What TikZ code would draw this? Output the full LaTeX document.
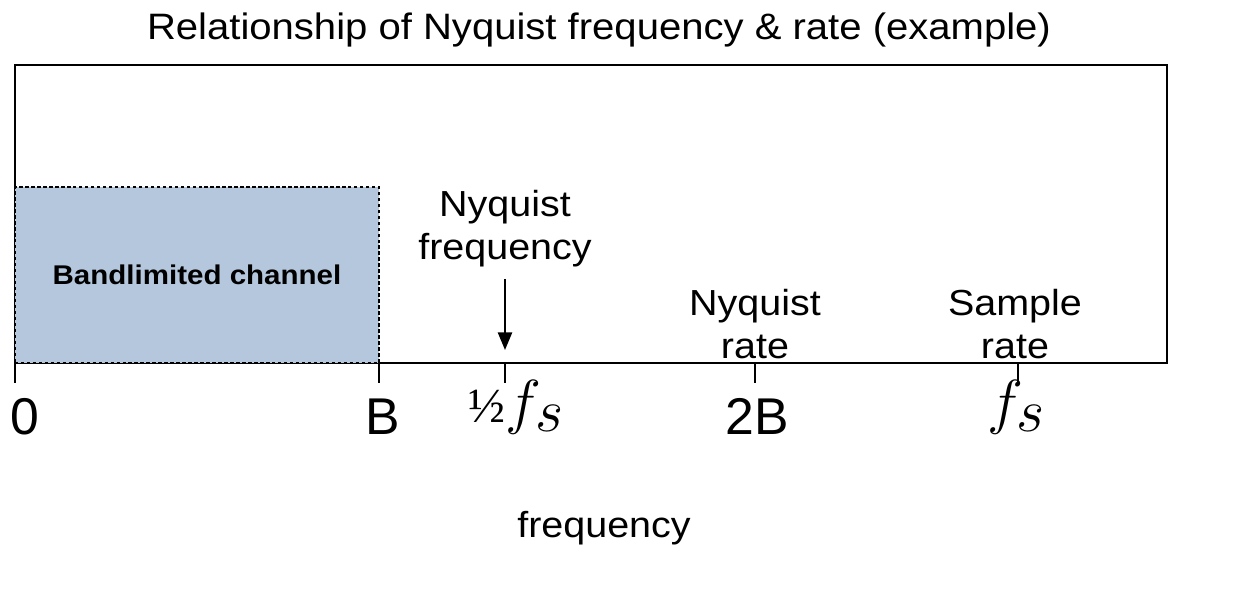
\documentclass[tikz,border=0pt]{standalone}
\usepackage{fontspec}
\setmainfont{Liberation Sans}[FakeStretch=1.09]
\newfontfamily\tickfont{Liberation Sans}
\newfontfamily\halffont{Liberation Serif}
\usetikzlibrary{arrows.meta}

\definecolor{bandblue}{HTML}{B4C7DC}

\begin{document}
\begin{tikzpicture}[x=0.01cm, y=-0.01cm,
    every node/.style={font=\fontsize{10.3}{12}\selectfont},
    tickline/.style={line width=0.6pt},
    ticklabel/.style={anchor=base, font=\tickfont\fontsize{14.7}{17}\selectfont},
    mathlabel/.style={anchor=base, font=\fontsize{16}{18}\selectfont},
    ratelabel/.style={anchor=base, align=center}]
    \useasboundingbox (0,0) rectangle (1245,599);

    \node[anchor=base, font=\fontsize{10.45}{12}\selectfont] (title) at (599,39) {Relationship of Nyquist frequency \& rate (example)};

    % frame and band
    \node[draw, line width=0.6pt, minimum width=11.52cm, minimum height=2.98cm, inner sep=0pt] (frame) at (591,214) {};
    \node[draw, fill=bandblue, line width=0.6pt, dash pattern=on 1pt off 0.7pt,
          minimum width=3.64cm, minimum height=1.76cm, inner sep=0pt,
          font=\fontsize{7.7}{9}\selectfont\bfseries] (band) at (197,275) {Bandlimited channel};

    % ticks
    \coordinate (a0) at (15,363);   \coordinate (b0) at (15,383);
    \coordinate (aB) at (379,363);  \coordinate (bB) at (379,383);
    \coordinate (ah) at (505,363);  \coordinate (bh) at (505,383);
    \coordinate (a2) at (755,363);  \coordinate (b2) at (755,383);
    \coordinate (af) at (1018,363); \coordinate (bf) at (1018,383);
    \draw[tickline] (a0) -- (b0);
    \draw[tickline] (aB) -- (bB);
    \draw[tickline] (ah) -- (bh);
    \draw[tickline] (a2) -- (b2);
    \draw[tickline] (af) -- (bf);

    \node[ticklabel] (l0) at (25,434) {0};
    \node[ticklabel] (lB) at (383,434) {B};
    \node[mathlabel] (lhalf) at (517,422) {{\halffont\fontsize{14}{16}\selectfont ½}$f_{\textstyle s}$};
    \node[ticklabel] (l2B) at (757,434) {2B};
    \node[mathlabel] (lfs) at (1017,422) {$f_{\textstyle s}$};

    % labels over the axis
    \node[ratelabel] (nyqf) at (505,259) {Nyquist\\frequency};
    \coordinate (tip) at (505,350);
    \draw[-{Triangle[length=5pt,width=4pt]}, line width=0.6pt] (nyqf) -- (tip);
    \node[ratelabel] (nyqr) at (755,358) {Nyquist\\rate};
    \node[ratelabel] (samr) at (1015,358) {Sample\\rate};

    \node[anchor=base] (xlabel) at (604,537) {frequency};
\end{tikzpicture}
\end{document}
